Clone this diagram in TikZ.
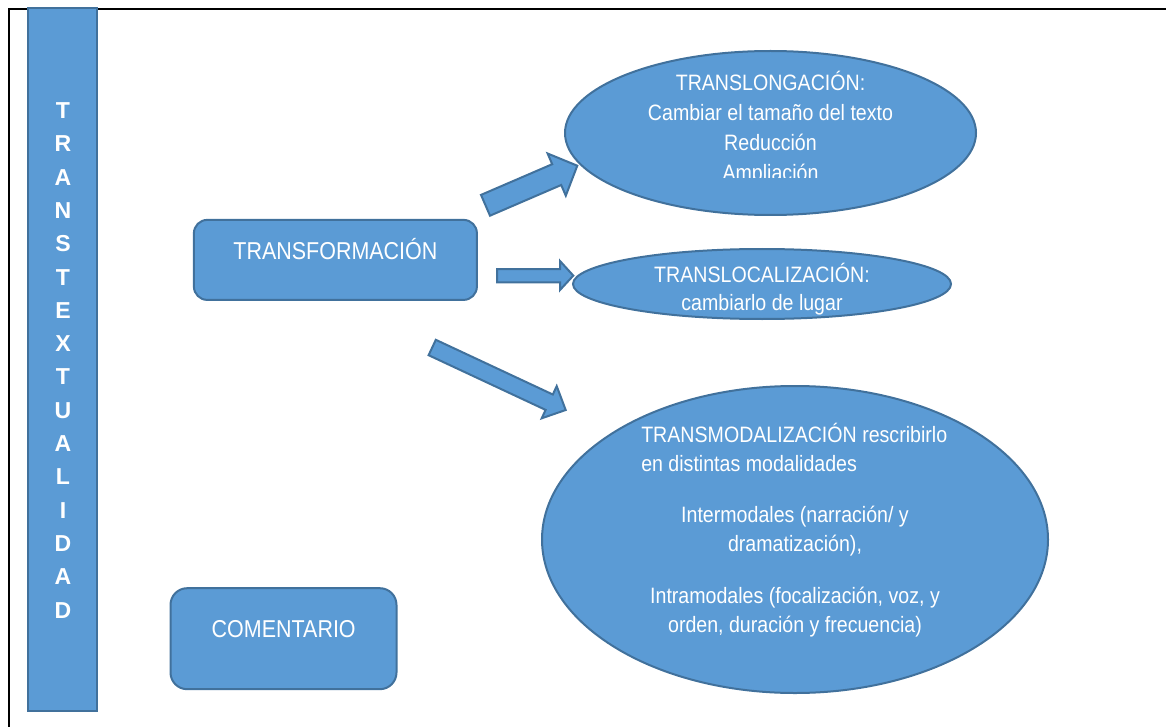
\documentclass[tikz,border=0pt]{standalone}
\usepackage{fontspec}
\setmainfont{Liberation Sans}
\newfontfamily\narrowfont{Liberation Sans}[FakeStretch=0.88]
\usetikzlibrary{shapes.geometric}
\definecolor{officeblue}{HTML}{5B9BD5}
\definecolor{officeline}{HTML}{41719C}
\newcommand{\px}{0.75pt}
\tikzset{
  blueshape/.style={fill=officeblue, draw=officeline, line width=1.5pt},
  bigbox/.style={blueshape, rectangle, inner sep=0pt},
  oval/.style={blueshape, ellipse, inner sep=0pt},
  blockarrow/.style={blueshape, line join=miter},
  boxtext/.style={text=white, inner sep=0pt, anchor=base, font=\narrowfont\fontsize{18.3}{22}\selectfont},
  ovaltext/.style={text=white, inner sep=0pt, anchor=base, font=\narrowfont\fontsize{16.7}{20}\selectfont},
  bartext/.style={text=white, inner sep=0pt, anchor=base, font=\fontsize{17.3}{20}\selectfont\bfseries},
}
\begin{document}
\begin{tikzpicture}[x=\px, y=-\px]
\useasboundingbox (0,0) rectangle (1166,727);
% frame
\draw[line width=1.5pt] (1166,9.3) -- (9.3,9.3) -- (9.3,727);
% left bar
\node[bigbox, minimum width=69*\px, minimum height=703*\px] (bar) at (62.8,359.5) {};
\foreach \l [count=\i from 0] in {T,R,A,N,S,T,E,X,T,U,A,L,I,D,A,D}
  \node[bartext] (bar\i) at (63,118.5+33.3*\i) {\l};
% boxes
\node[bigbox, rounded corners=10pt, minimum width=283*\px, minimum height=80*\px] (transf) at (335.4,259.9) {};
\node[boxtext] (transftxt) at (335.4,259) {TRANSFORMACIÓN};
\node[bigbox, rounded corners=12.5pt, minimum width=226*\px, minimum height=101*\px] (coment) at (283.5,638.7) {};
\node[boxtext] (comenttxt) at (283.7,637.3) {COMENTARIO};
% block arrows
\draw[blockarrow] (481.0,194.9) -- (552.2,164.2) -- (547.6,153.5) -- (577.3,165.7)
  -- (565.8,195.7) -- (561.2,185.0) -- (490.0,215.7) -- cycle;
\draw[blockarrow] (497,269) -- (560,269) -- (560,261) -- (573.3,275.6)
  -- (560,290) -- (560,282.3) -- (497,282.3) -- cycle;
\draw[blockarrow] (435.8,339.8) -- (552.8,394.5) -- (556.7,386.1) -- (565.7,410)
  -- (541.7,418.3) -- (545.6,409.9) -- (428.6,355.2) -- cycle;
% ellipses
\node[oval, minimum width=411*\px, minimum height=164*\px] (longa) at (770.5,133) {};
\begin{scope}
  \clip (560,50) rectangle (980,177.7);
  \node[ovaltext] (longa1) at (770.5,90.7) {TRANSLONGACIÓN:};
  \node[ovaltext] (longa2) at (770.5,120.7) {Cambiar el tamaño del texto};
  \node[ovaltext] (longa3) at (770.5,151) {Reducción};
  \node[ovaltext] (longa4) at (770.5,181) {Ampliación};
\end{scope}
\node[oval, minimum width=378*\px, minimum height=70*\px] (loca) at (762,284) {};
\node[ovaltext] (loca1) at (762,282) {TRANSLOCALIZACIÓN:};
\node[ovaltext] (loca2) at (762,310) {cambiarlo de lugar};
\node[oval, minimum width=506*\px, minimum height=307*\px] (moda) at (795,539.5) {};
\node[ovaltext, anchor=base west] (moda1) at (641,442) {TRANSMODALIZACIÓN rescribirlo};
\node[ovaltext, anchor=base west] (moda2) at (641,471) {en distintas modalidades};
\node[ovaltext] (moda3) at (795,522) {Intermodales (narración/ y};
\node[ovaltext] (moda4) at (795,551) {dramatización),};
\node[ovaltext] (moda5) at (795,603) {Intramodales (focalización, voz, y};
\node[ovaltext] (moda6) at (795,632) {orden, duración y frecuencia)};
\end{tikzpicture}
\end{document}
